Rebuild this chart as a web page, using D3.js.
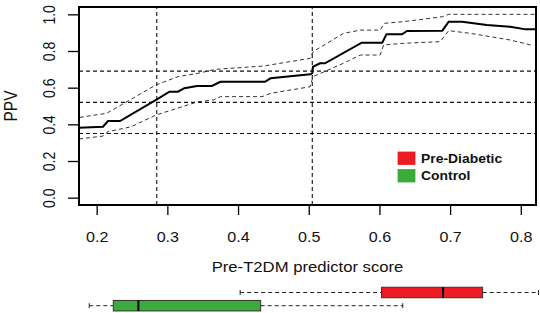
<!DOCTYPE html>
<html lang="en">

<head>
    <meta charset="utf-8">
    <script src='https://d3js.org/d3.v7.min.js'></script>
    <style>
        body { margin: 0; background: #fff; }
        text { font-family: "Liberation Sans", Arial, sans-serif; }
    </style>
</head>

<body>
    <div class="chart"></div>

    <script>
        // PPV curve
        const ppvX = [0.175, 0.209, 0.216, 0.233, 0.284, 0.303, 0.315, 0.324, 0.342, 0.363, 0.375, 0.438, 0.446, 0.502, 0.505, 0.506, 0.516, 0.523, 0.575, 0.604, 0.610, 0.632, 0.639, 0.689, 0.698, 0.717, 0.752, 0.785, 0.807, 0.821];
        const ppvY = [0.382, 0.387, 0.418, 0.418, 0.533, 0.578, 0.578, 0.597, 0.609, 0.609, 0.632, 0.632, 0.651, 0.673, 0.678, 0.714, 0.733, 0.733, 0.845, 0.845, 0.891, 0.891, 0.909, 0.911, 0.960, 0.960, 0.942, 0.932, 0.918, 0.918];

        // upper confidence band
        const upperX = [0.176, 0.214, 0.284, 0.315, 0.343, 0.368, 0.436, 0.502, 0.506, 0.549, 0.573, 0.601, 0.607, 0.634, 0.689, 0.698, 0.821];
        const upperY = [0.438, 0.460, 0.615, 0.660, 0.678, 0.700, 0.718, 0.760, 0.796, 0.896, 0.914, 0.914, 0.951, 0.960, 0.987, 1.000, 1.000];

        // lower confidence band
        const lowerX = [0.175, 0.209, 0.216, 0.249, 0.284, 0.343, 0.365, 0.375, 0.434, 0.446, 0.502, 0.506, 0.549, 0.573, 0.601, 0.606, 0.634, 0.686, 0.698, 0.729, 0.757, 0.785, 0.814];
        const lowerY = [0.320, 0.336, 0.360, 0.387, 0.451, 0.523, 0.533, 0.551, 0.551, 0.569, 0.605, 0.660, 0.733, 0.778, 0.778, 0.833, 0.842, 0.851, 0.911, 0.896, 0.878, 0.860, 0.833];

        // reference lines
        const refX = [0.285, 0.505];
        const refY = [0.35, 0.52, 0.69];

        // axis ticks
        const xTicks = [0.2, 0.3, 0.4, 0.5, 0.6, 0.7, 0.8];
        const yTicks = [0, 0.2, 0.4, 0.6, 0.8, 1.0];

        // score distributions: min, q1, median, q3, max
        const groups = ["Pre-Diabetic", "Control"];
        const groupColors = ["#ec1c24", "#3bab3c"];
        const boxStats = [
            [0.403, 0.603, 0.690, 0.746, 0.825],
            [0.1895, 0.2235, 0.259, 0.432, 0.633]
        ];

        const width = 540, height = 313;
        const svg = d3.select(".chart")
            .append("svg")
            .attr("width", width)
            .attr("height", height);

        const x = d3.scaleLinear().domain([0.175, 0.8215]).range([79, 536]);
        const y = d3.scaleLinear().domain([-0.04, 1.04]).range([205, 7]);

        const dash = "4,3";
        const stretch = "scale(1.15,1)"; // picture is a bit wider than tall

        // reference lines
        svg.selectAll(".hline").data(refY).enter().append("line")
            .attr("x1", x.range()[0]).attr("x2", x.range()[1])
            .attr("y1", d => y(d)).attr("y2", d => y(d))
            .attr("stroke", "#111").attr("stroke-width", 1.1)
            .attr("stroke-dasharray", dash);
        svg.selectAll(".vline").data(refX).enter().append("line")
            .attr("x1", d => x(d)).attr("x2", d => x(d))
            .attr("y1", y.range()[0]).attr("y2", y.range()[1])
            .attr("stroke", "#111").attr("stroke-width", 1.1)
            .attr("stroke-dasharray", dash);

        // confidence bands
        const line = d3.line().x(d => x(d[0])).y(d => y(d[1]));
        [[upperX, upperY], [lowerX, lowerY]].forEach(b => {
            svg.append("path")
                .datum(d3.zip(b[0], b[1]))
                .attr("fill", "none")
                .attr("stroke", "#333")
                .attr("stroke-width", 1)
                .attr("stroke-dasharray", dash)
                .attr("d", line);
        });

        // main PPV line
        svg.append("path")
            .datum(d3.zip(ppvX, ppvY))
            .attr("fill", "none")
            .attr("stroke", "#000")
            .attr("stroke-width", 2)
            .attr("d", line);

        // plot frame
        svg.append("rect")
            .attr("x", x.range()[0]).attr("y", y.range()[1])
            .attr("width", x.range()[1] - x.range()[0])
            .attr("height", y.range()[0] - y.range()[1])
            .attr("fill", "none").attr("stroke", "#000").attr("stroke-width", 2);

        // x axis
        const xAxis = svg.append("g")
            .attr("transform", `translate(0,${y.range()[0]})`)
            .call(d3.axisBottom(x).tickValues(xTicks).tickSize(10).tickPadding(17).tickFormat(d3.format(".1f")));
        xAxis.select(".domain").remove();
        xAxis.selectAll("line").attr("stroke", "#000").attr("stroke-width", 1.3);
        xAxis.selectAll("text").attr("font-size", 14).attr("fill", "#111")
            .attr("font-family", "Liberation Sans, Arial, sans-serif")
            .attr("transform", stretch);

        // y axis (rotated labels)
        const yAxis = svg.append("g")
            .attr("transform", `translate(${x.range()[0]},0)`)
            .call(d3.axisLeft(y).tickValues(yTicks).tickSize(11).tickFormat(d3.format(".1f")));
        yAxis.select(".domain").remove();
        yAxis.selectAll("line").attr("stroke", "#000").attr("stroke-width", 1.3);
        yAxis.selectAll("text")
            .attr("font-size", 14).attr("fill", "#111")
            .attr("font-family", "Liberation Sans, Arial, sans-serif")
            .attr("x", null).attr("dy", null)
            .attr("text-anchor", "middle")
            .attr("transform", "translate(-24,0) " + stretch + " rotate(-90)");

        // axis titles
        svg.append("text")
            .attr("transform", `translate(${(x.range()[0] + x.range()[1]) / 2},272) ${stretch}`)
            .attr("text-anchor", "middle").attr("font-size", 14.5).attr("fill", "#111")
            .text("Pre-T2DM predictor score");
        svg.append("text")
            .attr("transform", `translate(17,106) ${stretch} rotate(-90)`)
            .attr("text-anchor", "middle").attr("font-size", 15.5).attr("fill", "#111")
            .text("PPV");

        // legend
        const legend = svg.append("g");
        groups.forEach((g, i) => {
            legend.append("rect")
                .attr("x", 398).attr("y", 152 + i * 17.5)
                .attr("width", 17).attr("height", 12.5)
                .attr("fill", groupColors[i]).attr("stroke", groupColors[i]).attr("stroke-width", 0.8);
            legend.append("text")
                .attr("transform", `translate(421,${162.5 + i * 17.5}) scale(1.07,1)`)
                .attr("font-size", 13).attr("font-weight", "bold").attr("fill", "#111")
                .text(g);
        });

        // boxplots under the axis
        const rowY = [292.5, 305.7];
        const boxH = 10.5;
        boxStats.forEach((s, i) => {
            const cy = rowY[i];
            const g = svg.append("g");
            // whiskers
            [[s[0], s[1]], [s[3], s[4]]].forEach(w => {
                g.append("line")
                    .attr("x1", x(w[0])).attr("x2", x(w[1]))
                    .attr("y1", cy).attr("y2", cy)
                    .attr("stroke", "#222").attr("stroke-width", 1)
                    .attr("stroke-dasharray", dash);
            });
            [s[0], s[4]].forEach(v => {
                g.append("line")
                    .attr("x1", x(v)).attr("x2", x(v))
                    .attr("y1", cy - 2.5).attr("y2", cy + 2.5)
                    .attr("stroke", "#222").attr("stroke-width", 1);
            });
            g.append("rect")
                .attr("x", x(s[1])).attr("y", cy - boxH / 2)
                .attr("width", x(s[3]) - x(s[1])).attr("height", boxH)
                .attr("fill", groupColors[i]).attr("stroke", "#333").attr("stroke-width", 1);
            g.append("line")
                .attr("x1", x(s[2])).attr("x2", x(s[2]))
                .attr("y1", cy - boxH / 2).attr("y2", cy + boxH / 2)
                .attr("stroke", "#000").attr("stroke-width", 2);
        });
    </script>
</body>

</html>
